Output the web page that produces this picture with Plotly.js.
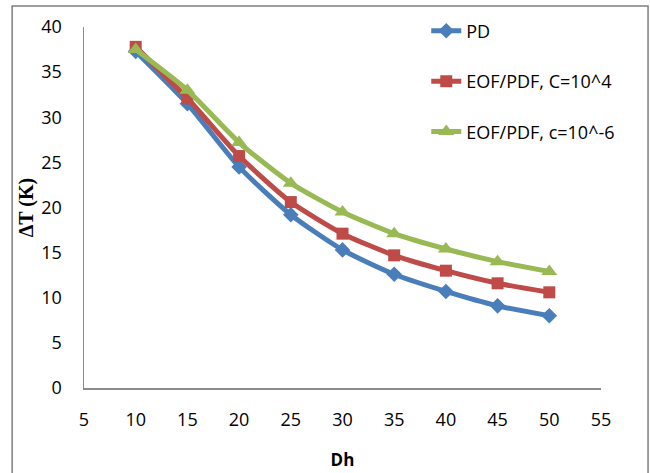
<!DOCTYPE html>
<html>
<head>
<meta charset="utf-8">
<script src="https://cdn.plot.ly/plotly-3.0.1.min.js"></script>
<style>html,body{margin:0;padding:0;background:#fff;}#chart{width:650px;height:473px;}</style>
</head>
<body>
<div id="chart"></div>
<script>
const dh = [10, 15, 20, 25, 30, 35, 40, 45, 50];
const pd = [37.3, 31.5, 24.5, 19.2, 15.3, 12.6, 10.7, 9.1, 8.0];
const eofC4 = [37.8, 32.1, 25.7, 20.6, 17.1, 14.7, 13.0, 11.6, 10.6];
const eofC6 = [37.5, 33.0, 27.2, 22.7, 19.5, 17.1, 15.4, 14.0, 12.9];
const seriesNames = ['PD', 'EOF/PDF, C=10^4', 'EOF/PDF, c=10^-6'];
const xTicks = [5, 10, 15, 20, 25, 30, 35, 40, 45, 50, 55];
const yTicks = [0, 5, 10, 15, 20, 25, 30, 35, 40];

const colors = ['#4A7EBB', '#BE4B48', '#98B954'];
const symbols = ['diamond', 'square', 'triangle-up'];
const sizes = [12, 12, 14];
const ys = [pd, eofC4, eofC6];

const traces = ys.map((y, i) => ({
  x: dh, y: y, name: seriesNames[i], type: 'scatter', mode: 'lines+markers',
  legendgroup: 'g' + i,
  line: {color: colors[i], width: 5, shape: 'spline', smoothing: 0.6},
  marker: {symbol: symbols[i], size: sizes[i], color: colors[i]}
}));

const axisGray = '#8c8c8c';
const layout = {
  width: 650, height: 473,
  margin: {l: 84, r: 49, t: 27, b: 85},
  paper_bgcolor: '#fff', plot_bgcolor: '#fff',
  font: {family: 'Open Sans, sans-serif', size: 18, color: '#000'},
  showlegend: true,
  legend: {x: 0.662, y: 1.04, xanchor: 'left', yanchor: 'top', bgcolor: 'rgba(0,0,0,0)',
           font: {size: 18, family: 'Open Sans, sans-serif'}, tracegroupgap: 24, traceorder: 'grouped'},
  xaxis: {range: [5, 55], tickvals: xTicks, ticktext: xTicks.map(String), showgrid: false, zeroline: false,
          showline: true, linecolor: axisGray, linewidth: 1.5, ticks: 'outside', ticklen: 15, tickcolor: 'rgba(0,0,0,0)',
          tickfont: {size: 18},
          title: {text: '<b>Dh</b>', font: {size: 17, family: 'Open Sans, sans-serif'}, standoff: 24}},
  yaxis: {range: [0, 40], tickvals: yTicks, ticktext: yTicks.map(String), showgrid: false, zeroline: false,
          showline: true, linecolor: axisGray, linewidth: 1.5, ticks: 'outside', ticklen: 17, tickcolor: 'rgba(0,0,0,0)',
          tickfont: {size: 18},
          title: {text: '<b>\u0394T (K)</b>', font: {size: 20, family: 'Liberation Serif, Times New Roman, serif'}, standoff: 2}},
  shapes: [{type: 'rect', xref: 'paper', yref: 'paper', x0: -0.139, x1: 1.091, y0: -0.3, y1: 1.058,
            line: {color: '#7f7f7f', width: 1.5}, fillcolor: 'rgba(0,0,0,0)', layer: 'below'}]
};

Plotly.newPlot('chart', traces, layout, {displayModeBar: false, staticPlot: true});
</script>
</body>
</html>
